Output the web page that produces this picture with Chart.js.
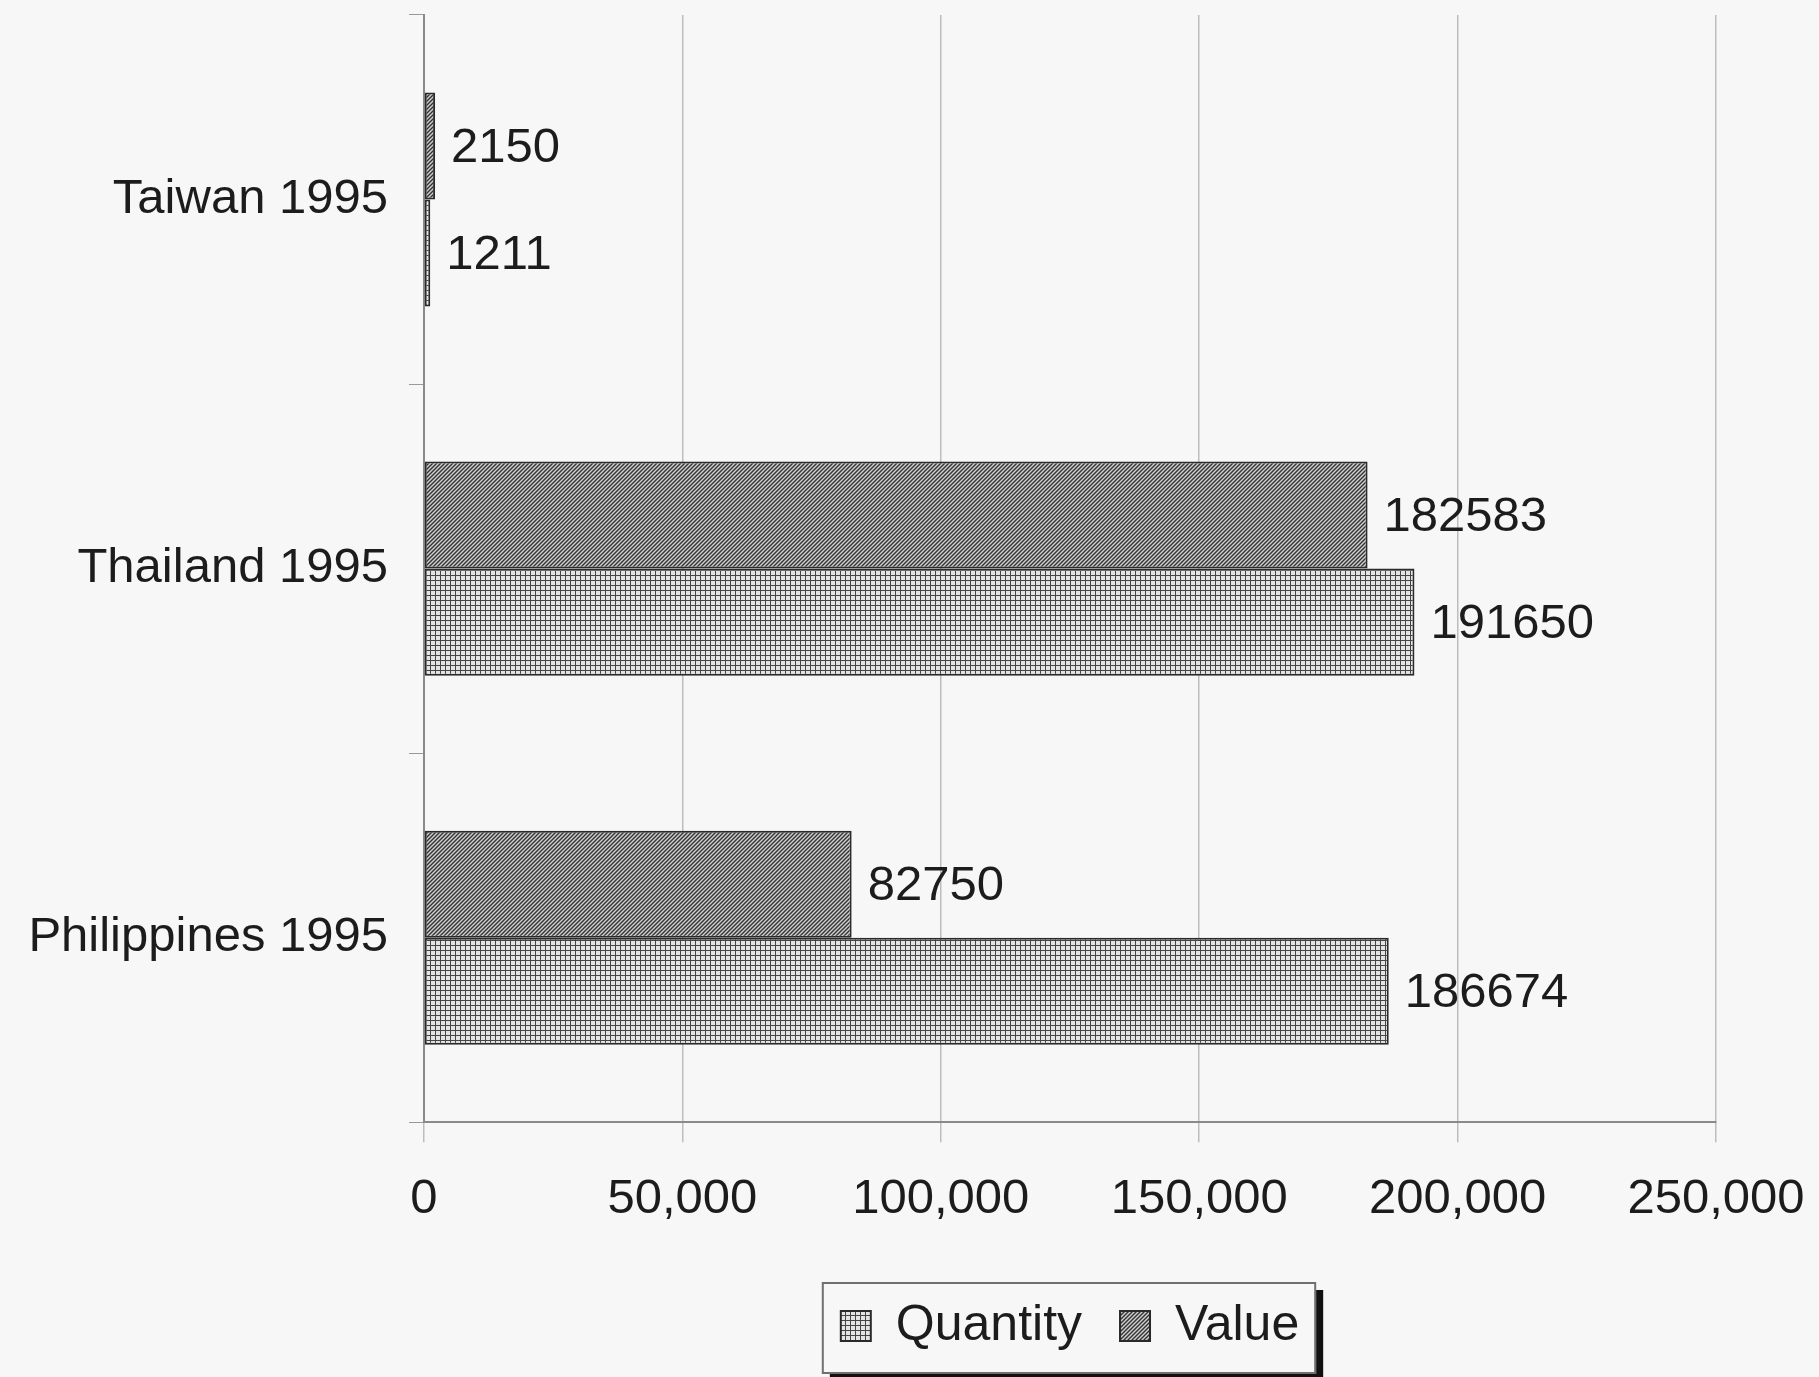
<!DOCTYPE html>
<html>
<head>
<meta charset="utf-8">
<script src="https://cdn.jsdelivr.net/npm/chart.js@4"></script>
<style>
  body { margin: 0; background: #f7f7f7; }
  #wrap { width: 1819px; height: 1377px; position: relative; }
</style>
</head>
<body>
<div id="wrap"><canvas id="barChart"></canvas></div>
<script>
var categories = ['Taiwan 1995', 'Thailand 1995', 'Philippines 1995'];
var valueData = [2150, 182583, 82750];
var quantityData = [1211, 191650, 186674];
var xTicks = [0, 50000, 100000, 150000, 200000, 250000];

var fontFamily = '"Liberation Sans", Arial, sans-serif';
var textColor = '#1c1c1c';

function makePattern(kind) {
  var c = document.createElement('canvas');
  var ctx = c.getContext('2d');
  if (kind === 'hatch') {
    c.width = 4; c.height = 4;
    ctx.fillStyle = '#cfcfcf';
    ctx.fillRect(0, 0, 4, 4);
    ctx.strokeStyle = '#333';
    ctx.lineWidth = 1.4;
    ctx.beginPath();
    ctx.moveTo(-1, 5); ctx.lineTo(5, -1);
    ctx.moveTo(-1, 1); ctx.lineTo(1, -1);
    ctx.moveTo(3, 5); ctx.lineTo(5, 3);
    ctx.stroke();
  } else {
    c.width = 5; c.height = 5;
    ctx.fillStyle = '#e4e4e4';
    ctx.fillRect(0, 0, 5, 5);
    ctx.fillStyle = '#454545';
    ctx.fillRect(0, 0, 5, 1);
    ctx.fillRect(0, 0, 1, 5);
  }
  return ctx.createPattern(c, 'repeat');
}

// value labels at the end of each bar
var barLabels = {
  id: 'barLabels',
  afterDatasetsDraw: function(chart) {
    var ctx = chart.ctx;
    ctx.save();
    ctx.font = '49px ' + fontFamily;
    ctx.fillStyle = textColor;
    ctx.textAlign = 'left';
    ctx.textBaseline = 'middle';
    chart.data.datasets.forEach(function(ds, i) {
      chart.getDatasetMeta(i).data.forEach(function(bar, j) {
        ctx.fillText(String(ds.data[j]), bar.x + 16, bar.y + 2);
      });
    });
    ctx.restore();
  }
};

// framed legend with a dark drop shadow
var legendFrame = {
  id: 'legendFrame',
  afterDraw: function(chart) {
    var hb = chart.legend.legendHitBoxes;
    if (!hb || !hb.length) return;
    var left = Infinity, right = -Infinity, mid = hb[0].top + hb[0].height / 2;
    hb.forEach(function(b) {
      left = Math.min(left, b.left);
      right = Math.max(right, b.left + b.width);
    });
    var x0 = left - 18, x1 = right + 16, y0 = mid - 43, y1 = mid + 47;
    var ctx = chart.ctx;
    ctx.save();
    ctx.strokeStyle = '#707070';
    ctx.lineWidth = 2;
    ctx.strokeRect(x0, y0, x1 - x0, y1 - y0);
    ctx.fillStyle = '#111';
    ctx.fillRect(x1 + 1, y0 + 7, 7, y1 - y0);
    ctx.fillRect(x0 + 7, y1 + 1, x1 - x0, 7);
    ctx.restore();
  }
};

new Chart(document.getElementById('barChart'), {
  type: 'bar',
  data: {
    labels: categories,
    datasets: [{
      label: 'Value',
      data: valueData,
      backgroundColor: makePattern('hatch'),
      borderColor: '#2a2a2a',
      borderWidth: 2,
      borderSkipped: false
    }, {
      label: 'Quantity',
      data: quantityData,
      backgroundColor: makePattern('grid'),
      borderColor: '#2a2a2a',
      borderWidth: 2,
      borderSkipped: false
    }]
  },
  options: {
    indexAxis: 'y',
    responsive: true,
    maintainAspectRatio: false,
    animation: false,
    datasets: { bar: { categoryPercentage: 0.58, barPercentage: 1 } },
    layout: { padding: { top: 15, right: 103, left: 0, bottom: 16 } },
    scales: {
      x: {
        min: 0,
        max: 250000,
        afterBuildTicks: function(scale) {
          scale.ticks = xTicks.map(function(v) { return { value: v }; });
        },
        afterFit: function(scale) {
          scale.height += 6;
          scale.paddingLeft = 0;
          scale.paddingRight = 0;
        },
        grid: { color: '#bdbdbd', lineWidth: 1.5, tickLength: 20 },
        border: { color: '#8a8a8a', width: 2 },
        ticks: {
          color: textColor,
          padding: 28,
          maxRotation: 0,
          font: { size: 49, family: fontFamily }
        }
      },
      y: {
        afterFit: function(scale) {
          scale.width = 424;
          scale.paddingTop = 0;
          scale.paddingBottom = 0;
        },
        grid: { drawOnChartArea: false, color: '#9a9a9a', tickLength: 15 },
        border: { color: '#8a8a8a', width: 2 },
        ticks: {
          color: textColor,
          padding: 21,
          font: { size: 49, family: fontFamily }
        }
      }
    },
    plugins: {
      tooltip: { enabled: false },
      legend: {
        position: 'bottom',
        fullSize: false,
        reverse: true,
        labels: {
          color: textColor,
          boxWidth: 30,
          boxHeight: 30,
          padding: 38,
          font: { size: 50, family: fontFamily }
        }
      }
    }
  },
  plugins: [barLabels, legendFrame]
});
</script>
</body>
</html>
